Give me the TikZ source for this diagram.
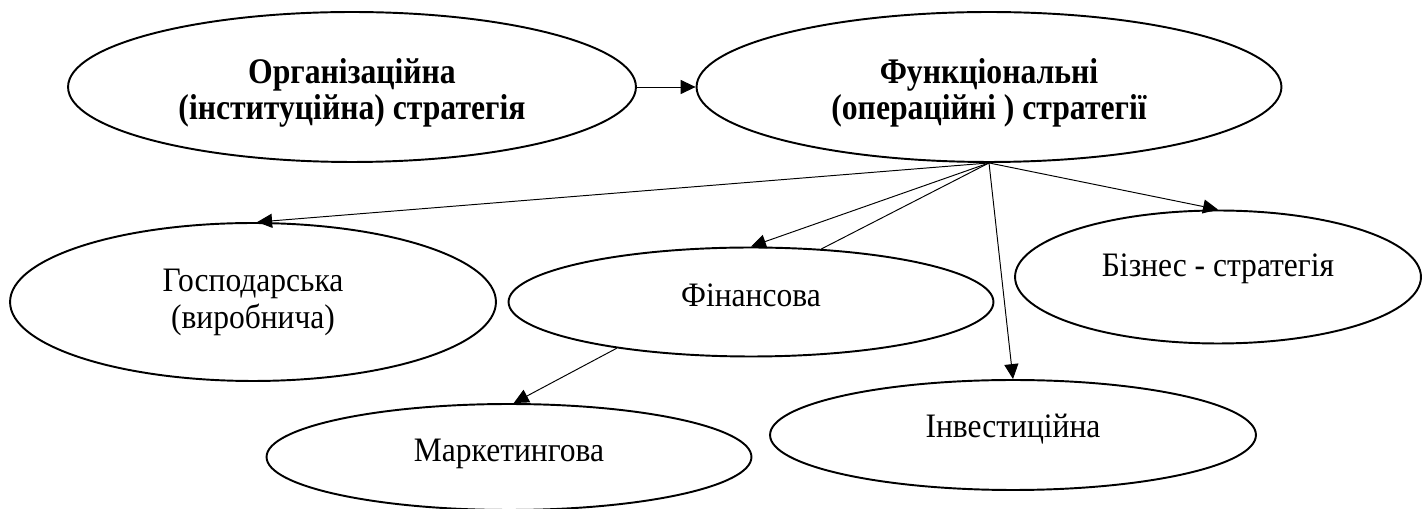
\documentclass[tikz,border=0pt]{standalone}
\usepackage{fontspec}
\setmainfont{Liberation Serif}
\newfontfamily\ovalfont[FakeStretch=0.92]{Liberation Serif}
\newfontfamily\headfont[FakeStretch=0.88]{Liberation Serif}
\usetikzlibrary{shapes.geometric,arrows.meta}

\begin{document}
\begin{tikzpicture}[x=0.02cm,y=-0.02cm,
  oval/.style={draw,ellipse,line width=1.1pt,inner sep=0pt,align=center,
    font=\ovalfont\fontsize{19.5}{21}\selectfont},
  head/.style={oval,text height=37pt,text depth=0pt,
    font=\headfont\bfseries\fontsize{20.5}{20.5}\selectfont},
  link/.style={line width=0.55pt,-{Triangle[length=8.5pt,width=8pt]}}]
\useasboundingbox (0,0) rectangle (1427,509);
% top row
\node[head,minimum width=11.36cm,minimum height=3cm] (org) at (352,87) {Організаційна\\(інституційна) стратегія};
\node[head,minimum width=11.7cm,minimum height=3cm] (func) at (989,87) {Функціональні\\(операційні ) стратегії};
% lower row
\node[oval,minimum width=9.72cm,minimum height=3.16cm] (gosp) at (253,302) {Господарська\\(виробнича)};
\node[oval,text depth=8pt,minimum width=9.7cm,minimum height=2.18cm] (fin) at (751,302) {Фінансова};
\node[oval,text depth=14pt,minimum width=8.12cm,minimum height=2.66cm] (biz) at (1218,277) {Бізнес - стратегія};
\node[oval,text depth=10pt,minimum width=9.72cm,minimum height=2.2cm] (inv) at (1013,435) {Інвестиційна};
\node[oval,text depth=8pt,minimum width=9.7cm,minimum height=2.12cm] (mark) at (509,457) {Маркетингова};
% connectors
\draw[link] (org) -- (func);
\draw[link] (func.south) -- (gosp.87);
\draw[link] (func.south) -- (fin.north);
\draw[line width=0.55pt] (func.south) -- (fin.37);
\draw[link] (func.south) -- (inv.north);
\draw[link] (func.south) -- (biz.north);
\draw[link] (fin.199) -- (mark.85);

\end{tikzpicture}
\end{document}
